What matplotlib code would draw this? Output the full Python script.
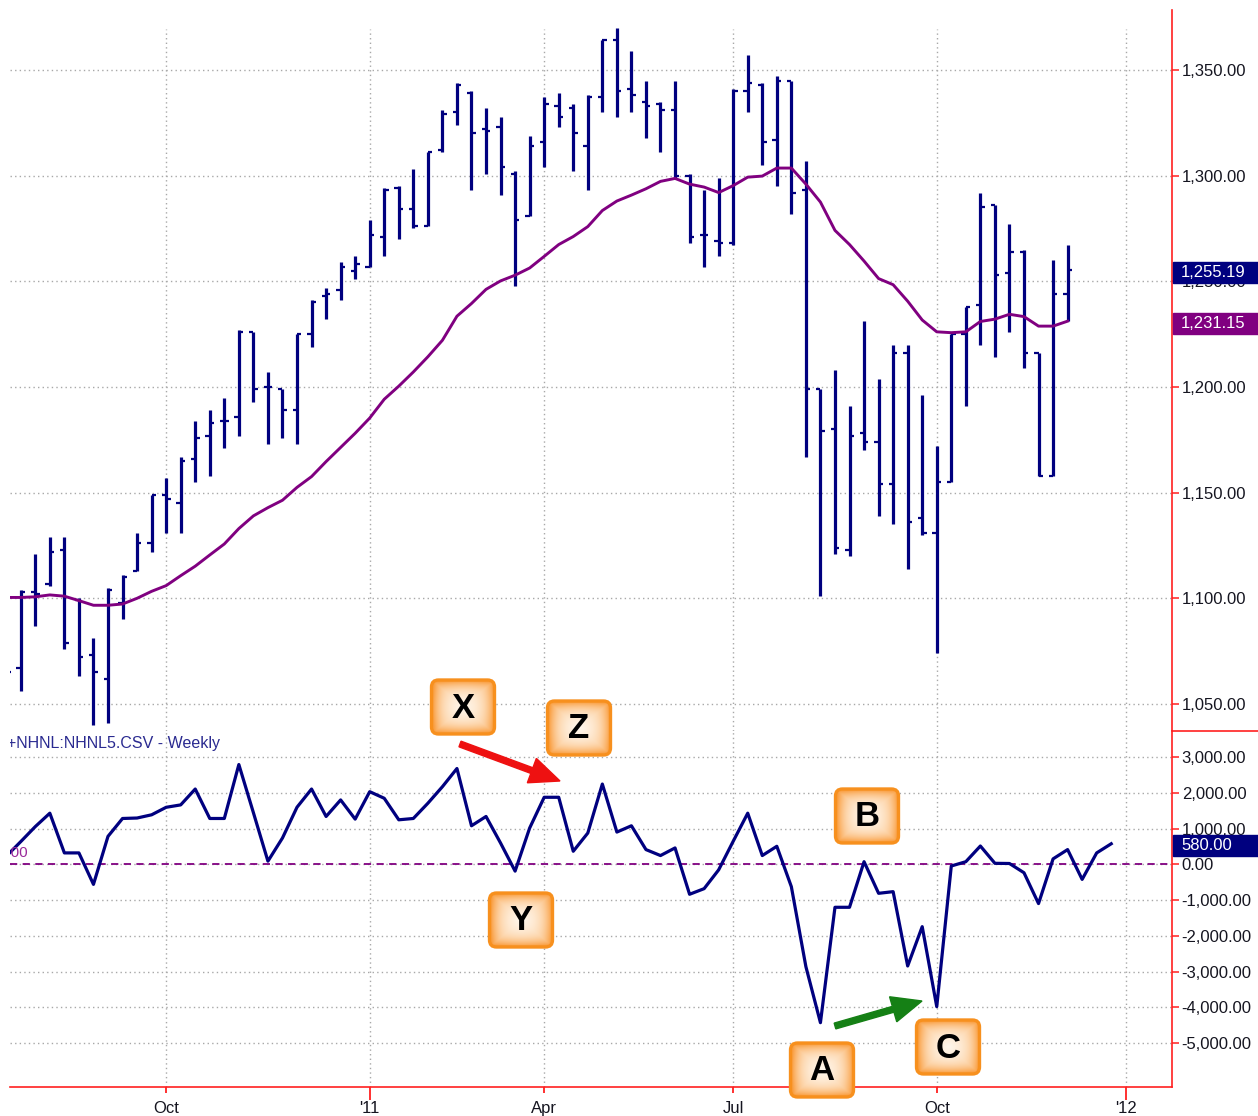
import numpy as np
import pandas as pd
import matplotlib
matplotlib.use("Agg")
import matplotlib.pyplot as plt
from matplotlib.patches import Rectangle, FancyBboxPatch, FancyArrow
from matplotlib.ticker import FuncFormatter

plt.rcParams['font.family'] = ['Liberation Sans', 'DejaVu Sans']

# weekly bars, first one (partly hidden) is 2010-07-16
dates = pd.date_range('2010-07-16', periods=78, freq='W-FRI')

opens = [1077, 1067, 1103, 1107, 1123, 1099, 1073, 1062, 1098, 1113, 1126,
         1149, 1145, 1166, 1177, 1184, 1186, 1226, 1200, 1199, 1189, 1225,
         1243, 1246, 1255, 1257, 1271, 1294, 1284, 1276, 1312, 1330, 1339,
         1322, 1323, 1301, 1281, 1316, 1333, 1332, 1314, 1337, 1364, 1341,
         1335, 1334, 1331, 1300, 1272, 1269, 1268, 1340, 1343, 1317, 1345,
         1293, 1199, 1180, 1123, 1178, 1174, 1154, 1216, 1138, 1131, 1155,
         1225, 1239, 1286, 1254, 1264, 1216, 1158, 1244]
highs = [1099, 1104, 1121, 1129, 1129, 1100, 1081, 1105, 1111, 1131, 1149,
         1157, 1167, 1184, 1189, 1195, 1227, 1226, 1207, 1199, 1225, 1241,
         1247, 1259, 1262, 1279, 1294, 1295, 1303, 1311, 1331, 1344, 1340,
         1332, 1328, 1302, 1319, 1337, 1339, 1334, 1338, 1364, 1370, 1359,
         1345, 1335, 1345, 1301, 1293, 1299, 1341, 1357, 1344, 1347, 1345,
         1307, 1199, 1208, 1191, 1231, 1204, 1220, 1220, 1196, 1172, 1225,
         1238, 1292, 1286, 1277, 1265, 1216, 1260, 1267]
lows = [1063, 1056, 1087, 1106, 1076, 1063, 1040, 1041, 1090, 1113, 1122,
        1131, 1131, 1155, 1158, 1171, 1177, 1193, 1173, 1176, 1173, 1219,
        1232, 1241, 1251, 1257, 1262, 1270, 1275, 1276, 1311, 1324, 1293,
        1301, 1291, 1248, 1281, 1304, 1323, 1302, 1293, 1330, 1328, 1330,
        1318, 1311, 1299, 1268, 1257, 1262, 1267, 1330, 1305, 1295, 1282,
        1167, 1101, 1121, 1120, 1170, 1139, 1135, 1114, 1130, 1074, 1155,
        1191, 1220, 1214, 1226, 1209, 1158, 1158, 1231]
closes = [1065, 1103, 1102, 1122, 1079, 1072, 1065, 1104, 1110, 1126, 1149,
          1147, 1165, 1176, 1183, 1184, 1226, 1199, 1200, 1189, 1225, 1240,
          1244, 1257, 1258, 1272, 1293, 1284, 1276, 1311, 1329, 1343, 1320,
          1321, 1304, 1279, 1314, 1334, 1328, 1320, 1337, 1364, 1340, 1338,
          1333, 1331, 1300, 1271, 1272, 1268, 1340, 1344, 1316, 1345, 1292,
          1199, 1179, 1124, 1177, 1174, 1154, 1216, 1136, 1131, 1155, 1225,
          1238, 1285, 1253, 1264, 1216, 1158, 1244, 1255.19]
ma = [1100.4, 1100.4, 1100.7, 1101.6, 1101.0, 1098.9, 1096.7, 1096.7, 1097.3,
      1100.0, 1103.3, 1106.0, 1110.7, 1115.2, 1120.5, 1125.7, 1133.0, 1139.0,
      1142.9, 1146.4, 1152.5, 1157.6, 1164.7, 1171.4, 1178.1, 1185.3, 1194.2,
      1200.4, 1207.1, 1214.3, 1222.1, 1233.5, 1239.5, 1246.2, 1250.2, 1252.9,
      1256.3, 1261.8, 1267.4, 1271.2, 1275.9, 1283.5, 1288.0, 1290.8, 1293.8,
      1297.3, 1298.7, 1296.0, 1294.6, 1292.0, 1295.3, 1299.3, 1299.8, 1303.6,
      1303.6, 1296.0, 1287.5, 1274.1, 1267.4, 1259.6, 1251.3, 1248.4, 1240.6,
      1231.7, 1226.1, 1225.7, 1226.1, 1231.0, 1232.1, 1234.4, 1233.3, 1228.8,
      1228.8, 1231.15]
nhnl = [230, 640, 1060, 1435, 324, 324, -556, 787, 1287, 1300, 1390, 1600,
        1667, 2111, 1287, 1287, 2796, 1450, 93, 741, 1602, 2111, 1343, 1806,
        1269, 2037, 1852, 1250, 1287, 1713, 2176, 2685, 1083, 1343, 600, -185,
        1019, 1880, 1880, 370, 880, 2250, 907, 1083, 417, 250, 463, -833, -676,
        -150, 650, 1435, 250, 509, -621, -2858, -4425, -1197, -1197, 78, -806,
        -760, -2839, -1739, -3977, -42, 78, 517, 33, 28, -231, -1093, 157, 417,
        -417, 324, 580]

month_ticks = [(2010, 10), (2011, 1), (2011, 4), (2011, 7), (2011, 10), (2012, 1)]
month_labels = ["Oct", "'11", "Apr", "Jul", "Oct", "'12"]
price_ticks = [1050, 1100, 1150, 1200, 1250, 1300, 1350]
nhnl_ticks = [-5000, -4000, -3000, -2000, -1000, 0, 1000, 2000, 3000]

NAVY = '#00007f'
PURPLE = '#800080'
RED = '#ff2020'
GRID = '#a8a8a8'
TXT = '#151520'

xp = np.arange(len(closes))
xn = np.arange(len(nhnl))
tick_pos = [int(np.argmax((dates.year == y) & (dates.month == m))) for y, m in month_ticks]

W, H = 1258, 1116
fig = plt.figure(figsize=(W / 100, H / 100), dpi=100)
left, right = 10, 1172
ax1 = fig.add_axes([left / W, (H - 731) / H, (right - left) / W, 721 / H])
ax2 = fig.add_axes([left / W, (H - 1087) / H, (right - left) / W, 356 / H])

money = FuncFormatter(lambda v, _: f"{v:,.2f}")

for ax in (ax1, ax2):
    ax.set_xlim(0.26, 80.18)
    for s in ('left', 'top', 'bottom'):
        ax.spines[s].set_visible(False)
    ax.spines['right'].set_color(RED)
    ax.spines['right'].set_linewidth(1.2)
    ax.yaxis.tick_right()
    ax.yaxis.set_major_formatter(money)
    ax.tick_params(axis='y', colors=RED, length=5, width=1.1, pad=2,
                   labelsize=12, labelcolor=TXT)
    ax.yaxis.grid(True, color=GRID, linestyle=(0, (1, 2.3)), lw=1)
    ax.set_axisbelow(True)

# price panel
ax1.set_ylim(1037.2, 1378.4)
ax1.set_yticks(price_ticks)
ax1.tick_params(axis='x', length=0, labelbottom=False)
for t in tick_pos:
    ax1.axvline(t, ymax=0.974, color=GRID, linestyle=(0, (1, 2.3)), lw=1, zorder=0)
ax1.vlines(xp, lows, highs, color=NAVY, lw=2.3, zorder=3)
ax1.hlines(opens, xp - 0.3, xp, color=NAVY, lw=1.6, zorder=3)
ax1.hlines(closes, xp, xp + 0.3, color=NAVY, lw=1.6, zorder=3)
ax1.plot(xp, ma, color=PURPLE, lw=2.1, zorder=4)

# NHNL panel
ax2.set_ylim(-6224, 3734)
ax2.set_yticks(nhnl_ticks)
ax2.spines['bottom'].set_visible(True)
ax2.spines['bottom'].set_color(RED)
ax2.spines['bottom'].set_linewidth(1.2)
ax2.set_xticks(tick_pos)
ax2.set_xticklabels(month_labels)
ax2.tick_params(axis='x', colors=RED, length=4, width=1.3, pad=6,
                labelsize=12, labelcolor=TXT)
for tk, lab in zip(ax2.xaxis.get_major_ticks(), month_labels):
    if lab.startswith("'"):
        tk.tick1line.set_markersize(9)
for t in tick_pos:
    ax2.axvline(t, color=GRID, linestyle=(0, (1, 2.3)), lw=1, zorder=0)
ax2.axhline(0, color=PURPLE, linestyle=(0, (4, 3)), lw=1.3, zorder=2)
ax2.plot(xn, nhnl, color=NAVY, lw=2.3, zorder=3)
ax2.text(-0.0026, 0.966, "+NHNL:NHNL5.CSV - Weekly", transform=ax2.transAxes,
         ha='left', va='center', fontsize=11.5, color='#2a2a90', clip_on=True)
ax2.text(0.0155, 0.657, "0.00", transform=ax2.transAxes, ha='right',
         va='center', fontsize=11, color='#9a2a9a', clip_on=True)

# overlay in figure pixels (y down)
ov = fig.add_axes([0, 0, 1, 1], zorder=10)
ov.patch.set_alpha(0)
ov.axis('off')
ov.set_xlim(0, W)
ov.set_ylim(H, 0)


def px_y(ax, v):
    return H - ax.transData.transform((0, v))[1]


ov.plot([right, W], [731, 731], color=RED, lw=1.2)

for ax, val, txt, col in ((ax1, closes[-1], "1,255.19", NAVY),
                          (ax1, ma[-1], "1,231.15", PURPLE),
                          (ax2, nhnl[-1], "580.00", NAVY)):
    yy = px_y(ax, val) + 2
    ov.add_patch(Rectangle((right + 1, yy - 10.5), W - right, 21, color=col, zorder=5))
    ov.text(right + 9, yy, txt, color='white', fontsize=12, ha='left',
            va='center', zorder=6)


def note(cx, cy, letter, w=63, h=54):
    x0, y0 = cx - w / 2, cy - h / 2
    box = FancyBboxPatch((x0 + 5, y0 + 5), w - 10, h - 10,
                         boxstyle="round,pad=5,rounding_size=7",
                         fc='none', ec='#f7901e', lw=2.4, zorder=12)
    ov.add_patch(box)
    gy, gx = np.mgrid[-1:1:60j, -1:1:70j]
    r = np.clip(np.maximum(np.abs(gx) ** 4, np.abs(gy) ** 4) * 0.7
                + np.sqrt(gx ** 2 + gy ** 2) * 0.35, 0, 1)
    inner = np.array([1.0, 0.97, 0.93])
    outer = np.array([0.98, 0.62, 0.25])
    img = inner + (outer - inner) * r[..., None]
    im = ov.imshow(img, extent=[x0, x0 + w, y0 + h, y0], zorder=11,
                   interpolation='bilinear', aspect='auto')
    im.set_clip_path(box)
    ov.text(cx, cy + 1, letter, ha='center', va='center', fontsize=25,
            fontweight='bold', color='black', zorder=13)


note(463, 707, "X")
note(579, 728, "Z")
note(521, 920, "Y")
note(867, 816, "B")
note(822, 1070, "A")
note(948, 1047, "C")

ov.add_patch(FancyArrow(460, 744, 100, 37, width=6, head_width=26, head_length=30,
                        length_includes_head=True, color='#ee1111', zorder=9))
ov.add_patch(FancyArrow(835, 1026, 87, -25, width=6, head_width=26, head_length=30,
                        length_includes_head=True, color='#158015', zorder=9))

ov.set_xlim(0, W)
ov.set_ylim(H, 0)

fig.savefig("out.png", dpi=100, facecolor='white')
